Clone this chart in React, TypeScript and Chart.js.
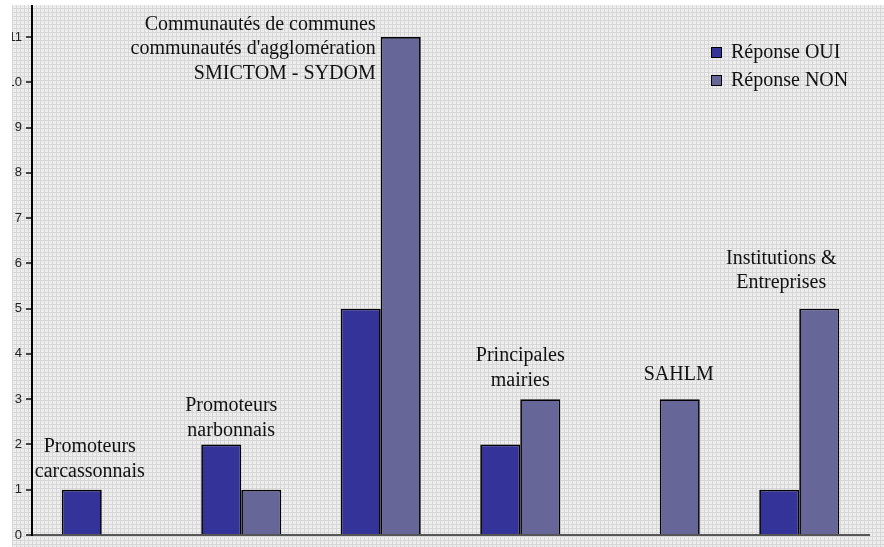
import React, { useEffect, useRef } from "react";
import { Chart, registerables } from "chart.js";

Chart.register(...registerables);

const categories = [
  "Promoteurs carcassonnais",
  "Promoteurs narbonnais",
  "Communautés de communes, communautés d'agglomération, SMICTOM - SYDOM",
  "Principales mairies",
  "SAHLM",
  "Institutions & Entreprises",
];
const categoryLabelLines = [
  ["Promoteurs", "carcassonnais"],
  ["Promoteurs", "narbonnais"],
  ["Communautés de communes", "communautés d'agglomération", "SMICTOM - SYDOM"],
  ["Principales", "mairies"],
  ["SAHLM"],
  ["Institutions &", "Entreprises"],
];
const seriesNames = ["Réponse OUI", "Réponse NON"];
const ouiValues = [1, 2, 5, 2, 0, 1];
const nonValues = [0, 1, 11, 3, 3, 5];
const yMin = 0;
const yMax = 11.685;
const yStep = 1;

// annotation placement: offset (px) from category centre, y value of first line, alignment
const labelPlacement = [
  { dx: -12, y: 1.94, align: "center" },
  { dx: -10, y: 2.85, align: "center" },
  { dx: -5, y: 11.28, align: "right" },
  { dx: 0, y: 3.95, align: "center" },
  { dx: 19, y: 3.53, align: "center" },
  { dx: -18, y: 6.11, align: "center" },
];

const COLORS = ["#333399", "#666699"];

function makePattern(ctx: CanvasRenderingContext2D) {
  const c = document.createElement("canvas");
  c.width = 4;
  c.height = 4;
  const p = c.getContext("2d")!;
  p.fillStyle = "#efefef";
  p.fillRect(0, 0, 4, 4);
  p.fillStyle = "#d6d6d6";
  p.fillRect(0, 0, 4, 1);
  p.fillRect(0, 0, 1, 4);
  p.fillStyle = "#e4e4e4";
  p.fillRect(2, 2, 1, 1);
  return ctx.createPattern(c, "repeat");
}

const bgPlugin = {
  id: "bgPattern",
  beforeDraw(chart: any) {
    const ctx = chart.ctx;
    ctx.save();
    const pat = makePattern(ctx);
    if (pat) ctx.fillStyle = pat;
    ctx.fillRect(0, 0, chart.width, chart.height);
    ctx.restore();
  },
};

const annotPlugin = {
  id: "annotations",
  afterDatasetsDraw(chart: any) {
    const ctx = chart.ctx;
    const xs = chart.scales.x;
    const ys = chart.scales.y;
    ctx.save();
    ctx.font = '20px "Liberation Serif", "Times New Roman", serif';
    ctx.fillStyle = "#111";
    ctx.textBaseline = "middle";
    categoryLabelLines.forEach((lines, i) => {
      const pl = labelPlacement[i];
      const x = xs.getPixelForValue(i) + pl.dx;
      const y0 = ys.getPixelForValue(pl.y);
      ctx.textAlign = pl.align;
      lines.forEach((ln, j) => {
        ctx.fillText(ln, x, y0 + j * 24.5);
      });
    });
    // legend
    const lx = 711;
    const ly = 47;
    chart.data.datasets.forEach((ds: any, i: number) => {
      const y = ly + i * 28;
      ctx.fillStyle = ds.backgroundColor;
      ctx.fillRect(lx, y, 10, 10);
      ctx.strokeStyle = "#000";
      ctx.lineWidth = 1;
      ctx.strokeRect(lx + 0.5, y + 0.5, 10, 10);
      ctx.fillStyle = "#111";
      ctx.textAlign = "left";
      ctx.fillText(ds.label, lx + 20, y + 6);
    });
    ctx.restore();
  },
  afterDraw(chart: any) {
    const ctx = chart.ctx;
    ctx.save();
    ctx.fillStyle = "#ffffff";
    ctx.fillRect(0, 0, 12, chart.height);
    ctx.fillRect(0, 0, chart.width, 5);
    ctx.restore();
  },
};

export default function App() {
  const ref = useRef<HTMLCanvasElement>(null);
  useEffect(() => {
    document.body.style.margin = "0";
    const chart = new Chart(ref.current!, {
      type: "bar",
      data: {
        labels: categories,
        datasets: [
          {
            label: seriesNames[0],
            data: ouiValues,
            backgroundColor: COLORS[0],
            borderColor: "#000",
            borderWidth: 1.7,
          },
          {
            label: seriesNames[1],
            data: nonValues,
            backgroundColor: COLORS[1],
            borderColor: "#000",
            borderWidth: 1.7,
          },
        ],
      },
      options: {
        responsive: false,
        animation: false,
        barPercentage: 1,
        categoryPercentage: 0.5735,
        layout: { padding: { left: 0, top: 6, right: 15, bottom: 12 } },
        plugins: { legend: { display: false }, tooltip: { enabled: false } },
        scales: {
          x: {
            grid: { display: false },
            ticks: { display: false },
            border: { display: true, color: "#555", width: 2 },
            afterFit: (s: any) => {
              s.height = 0;
              s.paddingLeft = 0;
              s.paddingRight = 0;
            },
          },
          y: {
            min: yMin,
            max: yMax,
            ticks: {
              stepSize: yStep,
              includeBounds: false,
              color: "#222",
              padding: 4,
              font: { family: '"Liberation Sans", Arial, sans-serif', size: 13 },
            },
            grid: {
              display: true,
              drawOnChartArea: false,
              drawTicks: true,
              tickLength: 6,
              color: "#444",
              lineWidth: 2,
            },
            border: { display: true, color: "#000", width: 2 },
            afterFit: (s: any) => {
              s.width = 32;
              s.paddingTop = 0;
              s.paddingBottom = 0;
            },
          },
        },
      } as any,
      plugins: [bgPlugin, annotPlugin],
    });
    return () => chart.destroy();
  }, []);
  return <canvas ref={ref} width={884} height={547} style={{ display: "block" }} />;
}
